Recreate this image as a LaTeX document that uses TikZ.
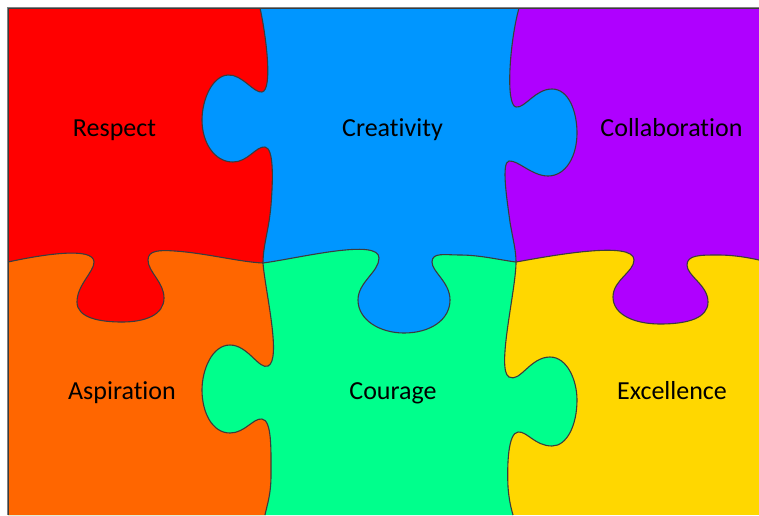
\documentclass[tikz,border=0pt]{standalone}
\usepackage{fontspec}
\setmainfont{Carlito}[Ligatures=NoCommon]
\definecolor{pred}{RGB}{255,0,0}
\definecolor{pblue}{RGB}{0,150,255}
\definecolor{ppurple}{RGB}{175,0,255}
\definecolor{porange}{RGB}{255,102,0}
\definecolor{pgreen}{RGB}{0,255,140}
\definecolor{pyellow}{RGB}{255,215,0}
\definecolor{edgegray}{RGB}{60,60,60}
\begin{document}
\begin{tikzpicture}[x=1pt,y=-1pt,
  outline/.style={draw=edgegray, line width=1.1pt},
  lbl/.style={font=\fontsize{26}{30}\selectfont, anchor=base, inner sep=0pt},
  vone/.style={insert path={
    .. controls (266,35) and (273,90) .. (262,92)
    .. controls (254,93.5) and (242,74) .. (228,75)
    .. controls (212,76) and (202,100) .. (202,120)
    .. controls (202,142) and (214,162) .. (233,162)
    .. controls (248,162) and (256,146) .. (265,147)
    .. controls (274,148) and (273,180) .. (271,205)
    .. controls (269,230) and (263,245) .. (263,263)
    .. controls (265,290) and (282,360) .. (268,366)
    .. controls (259,370) and (248,345) .. (230,345)
    .. controls (212,345) and (202,370) .. (202,390)
    .. controls (202,412) and (212,433) .. (230,433)
    .. controls (245,433) and (253,418) .. (262,419)
    .. controls (272,420) and (271,450) .. (271,475)
    .. controls (271,495) and (267,505) .. (265,515)}},
  vtwo/.style={insert path={
    .. controls (510,40) and (505,105) .. (516,107)
    .. controls (525,108.5) and (535,89) .. (552,89)
    .. controls (569,89) and (577,112) .. (577,133)
    .. controls (577,156) and (566,176) .. (548,176)
    .. controls (532,176) and (518,160) .. (509,161)
    .. controls (501,162) and (507,200) .. (510,222)
    .. controls (513,240) and (516,250) .. (516,262)
    .. controls (516,290) and (496,370) .. (509,377)
    .. controls (520,383) and (530,357) .. (550,357)
    .. controls (567,357) and (577,380) .. (577,400)
    .. controls (577,425) and (567,446) .. (552,446)
    .. controls (535,446) and (527,431) .. (518,432)
    .. controls (508,433) and (507,465) .. (508,487)
    .. controls (509,500) and (511,508) .. (513,515)}},
  hline/.style={insert path={
    .. controls (40,255) and (94,246) .. (94,262)
    .. controls (94,272) and (77,285) .. (77,302)
    .. controls (77,318) and (100,322) .. (122,322)
    .. controls (145,322) and (164,315) .. (164,298)
    .. controls (164,282) and (148,272) .. (148,260)
    .. controls (148,250) and (160,250) .. (175,251)
    .. controls (205,253) and (240,262) .. (263,263)
    .. controls (300,258) and (379,238) .. (379,258)
    .. controls (379,272) and (358,282) .. (358,300)
    .. controls (358,320) and (380,333) .. (404,333)
    .. controls (430,333) and (450,320) .. (450,300)
    .. controls (450,282) and (432,272) .. (432,262)
    .. controls (432,252) and (445,255) .. (460,255)
    .. controls (480,255) and (500,260) .. (516,262)
    .. controls (550,256) and (634,240) .. (634,260)
    .. controls (634,272) and (613,280) .. (613,297)
    .. controls (613,315) and (635,324) .. (660,324)
    .. controls (688,324) and (708,318) .. (708,302)
    .. controls (708,285) and (687,276) .. (687,265)
    .. controls (687,255) and (700,255) .. (718,255)
    .. controls (735,255) and (750,258) .. (759,260)}}]
\useasboundingbox (0,0) rectangle (759,515);
\fill[white] (0,0) rectangle (759,515);
% bottom row
\fill[pyellow] (8,8) rectangle (759,515);
\fill[pgreen] (8,8) -- (519,8) [vtwo] -- (8,515) -- cycle;
\fill[porange] (8,8) -- (260,8) [vone] -- (8,515) -- cycle;
% top row
\begin{scope}
  \clip (8,8) -- (8,262) [hline] -- (759,8) -- cycle;
  \fill[ppurple] (8,8) rectangle (759,515);
  \fill[pblue] (8,8) -- (519,8) [vtwo] -- (8,515) -- cycle;
  \fill[pred] (8,8) -- (260,8) [vone] -- (8,515) -- cycle;
\end{scope}
% seams
\draw[outline] (260,8) [vone];
\draw[outline] (519,8) [vtwo];
\draw[outline] (8,262) [hline];
% frame
\draw[gray, line width=1.2pt] (7.6,515) -- (7.6,7.6) -- (759,7.6);
\draw[outline, line width=0.9pt] (8.9,515) -- (8.9,8.9) -- (759,8.9);
% labels
\node[lbl] (respect) at (114.5,136) {Respect};
\node[lbl] (creativity) at (392.5,136) {Creativity};
\node[lbl] (collab) at (671.5,136) {Collaboration};
\node[lbl] (aspiration) at (122,399) {Aspiration};
\node[lbl] (courage) at (393,399) {Courage};
\node[lbl] (excellence) at (672,399) {Excellence};
\end{tikzpicture}
\end{document}
